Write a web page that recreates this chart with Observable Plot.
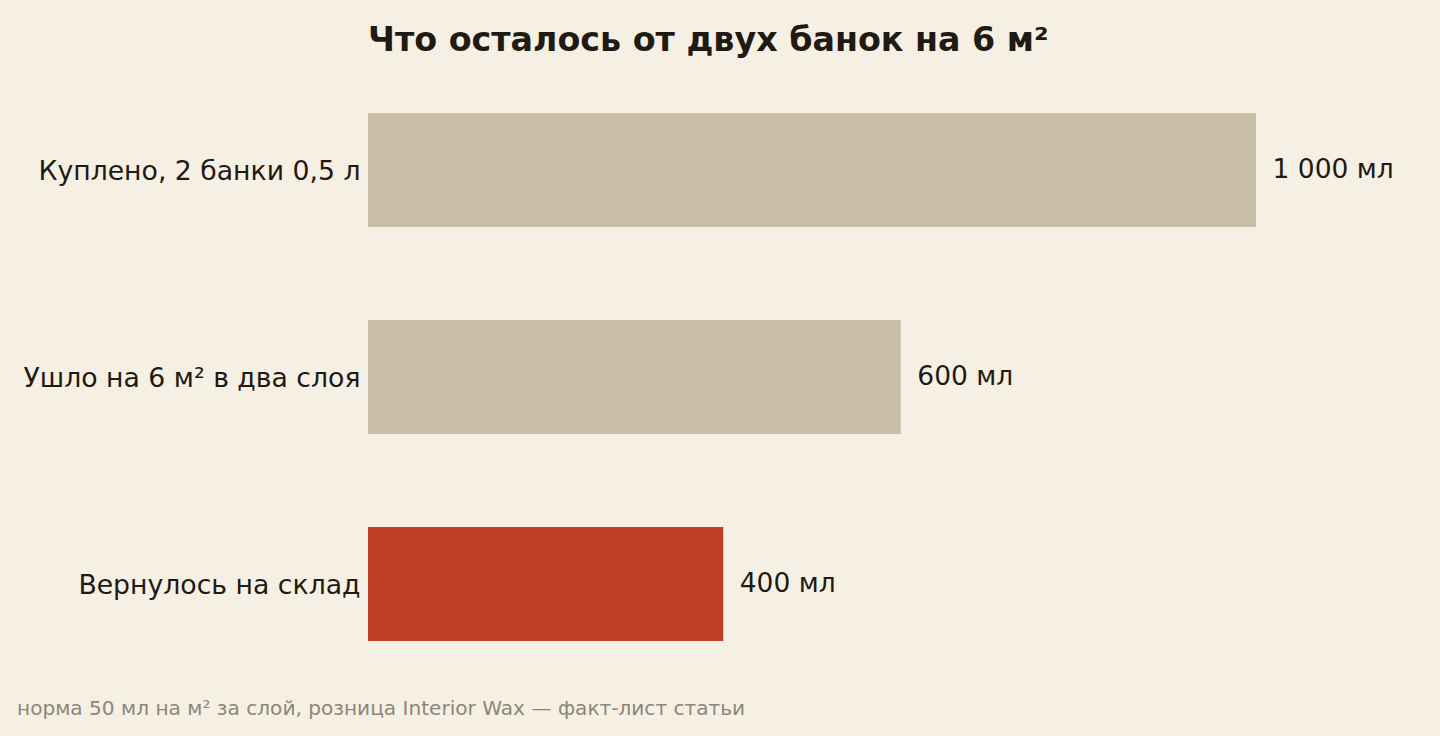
<!DOCTYPE html>
<html>
<head>
<meta charset="utf-8">
<script src="https://cdn.jsdelivr.net/npm/d3@7"></script>
<script src="https://cdn.jsdelivr.net/npm/@observablehq/plot@0.6"></script>
<style>
  html, body { margin: 0; padding: 0; background: #f6efe3; }
  body { width: 1440px; height: 736px; overflow: hidden; font-family: "DejaVu Sans", sans-serif; color: #1f1a12; }
  #title { margin: 0; padding: 21px 0 0 368px; height: 59px; line-height: 38px; font-size: 33.3px; font-weight: bold; color: #1f1a12; box-sizing: content-box; }
  #chart svg { display: block; }
  #caption { position: absolute; left: 17px; top: 695px; font-size: 20.1px; line-height: 26px; color: #8c8679; }
</style>
</head>
<body>
<div id="title">Что осталось от двух банок на 6 м²</div>
<div id="chart"></div>
<div id="caption">норма 50 мл на м² за слой, розница Interior Wax — факт-лист статьи</div>
<script>
const categories = ["Куплено, 2 банки 0,5 л", "Ушло на 6 м² в два слоя", "Вернулось на склад"];
const values = [1000, 600, 400];
const valueLabels = ["1 000 мл", "600 мл", "400 мл"];
const highlight = [false, false, true];

const rows = categories.map((c, i) => ({category: c, value: values[i], label: valueLabels[i], hi: highlight[i]}));

const plot = Plot.plot({
  width: 1440,
  height: 600,
  marginTop: 33,
  marginBottom: 39,
  marginLeft: 368,
  marginRight: 184,
  style: {background: "transparent", fontFamily: "DejaVu Sans, sans-serif", color: "#1f1a12"},
  x: {domain: [0, 1000], axis: null},
  y: {domain: categories, paddingInner: 0.45, paddingOuter: 0, label: null},
  marks: [
    Plot.barX(rows, {x: "value", y: "category", fill: d => d.hi ? "#bd3d27" : "#c9bea7"}),
    Plot.text(rows, {x: "value", y: "category", text: "label", textAnchor: "start", dx: 16, dy: -1, fontSize: 26.5, fill: "#1f1a12"}),
    Plot.axisY({tickSize: 0, tickPadding: 8, dy: 1, fontSize: 26.7, label: null, fill: "#1f1a12"})
  ]
});
document.getElementById("chart").appendChild(plot);
</script>
</body>
</html>
